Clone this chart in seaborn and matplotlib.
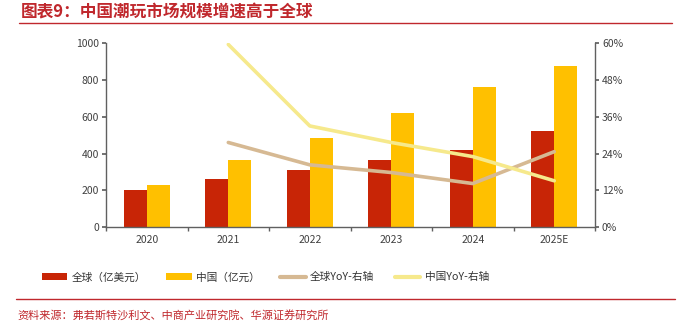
import numpy as np
import pandas as pd
import matplotlib
matplotlib.use("Agg")
import matplotlib.pyplot as plt
import seaborn as sns
from matplotlib.patches import Patch
from matplotlib.lines import Line2D
from matplotlib.ticker import FixedLocator, FuncFormatter

years = ["2020", "2021", "2022", "2023", "2024", "2025E"]
global_size = [203, 259, 311, 367, 418, 521]
china_size = [230, 367, 487, 623, 762, 877]
global_yoy = [np.nan, 27.6, 20.3, 17.8, 14.2, 24.6]
china_yoy = [np.nan, 59.6, 33.0, 27.6, 23.0, 15.1]
series_names = ["全球（亿美元）", "中国（亿元）", "全球YoY-右轴", "中国YoY-右轴"]
title = "图表9：中国潮玩市场规模增速高于全球"
source = "资料来源：弗若斯特沙利文、中商产业研究院、华源证券研究所"

c_red = "#C82506"
c_yel = "#FFC000"
c_tan = "#D6B993"
c_lyel = "#F6E98C"
c_text = "#404040"
c_axis = "#606060"
c_title = "#C0282D"

sns.set_theme(style="white")
plt.rcParams["font.family"] = ["Noto Sans CJK SC", "DejaVu Sans"]
plt.rcParams["axes.unicode_minus"] = False

fig = plt.figure(figsize=(6.8, 3.3), dpi=100)
ax = fig.add_axes([0.156, 0.312, 0.719, 0.557])

df = pd.DataFrame({
    "year": years * 2,
    "value": global_size + china_size,
    "series": [series_names[0]] * len(years) + [series_names[1]] * len(years),
})
sns.barplot(data=df, x="year", y="value", hue="series", order=years,
            palette=[c_red, c_yel], width=0.56, gap=0, saturation=1,
            legend=False, ax=ax, linewidth=0)

ax.set_xlim(-0.5, len(years) - 0.5)
ax.set_ylim(0, 1000)
ax.set_yticks([0, 200, 400, 600, 800, 1000])
ax.set_xlabel("")
ax.set_ylabel("")
ax.tick_params(axis="y", which="major", length=3, color=c_axis, labelsize=7.5,
               labelcolor=c_text, pad=2, left=True)
ax.tick_params(axis="x", which="major", length=0, labelsize=7.5, labelcolor=c_text, pad=6)
ax.xaxis.set_minor_locator(FixedLocator(np.arange(-0.5, len(years), 1.0)))
ax.tick_params(axis="x", which="minor", length=3, color=c_axis, bottom=True, direction="out")
for s in ["top", "right"]:
    ax.spines[s].set_visible(False)
for s in ["left", "bottom"]:
    ax.spines[s].set_color(c_axis)
    ax.spines[s].set_linewidth(1.0)

ax2 = ax.twinx()
xpos = np.arange(len(years))
ldf = pd.DataFrame({"x": list(xpos) * 2, "yoy": global_yoy + china_yoy,
                    "series": [series_names[2]] * len(years) + [series_names[3]] * len(years)}).dropna()
sns.lineplot(data=ldf, x="x", y="yoy", hue="series", palette=[c_tan, c_lyel],
             linewidth=2.6, legend=False, ax=ax2)
ax2.set_ylim(0, 60)
ax2.set_yticks([0, 12, 24, 36, 48, 60])
ax2.yaxis.set_major_formatter(FuncFormatter(lambda v, p: f"{v:.0f}%"))
ax2.set_xlabel("")
ax2.set_ylabel("")
ax2.tick_params(axis="y", length=3, color=c_axis, labelsize=7.5, labelcolor=c_text, pad=2, right=True)
for s in ["top", "left", "bottom"]:
    ax2.spines[s].set_visible(False)
ax2.spines["right"].set_color(c_axis)
ax2.spines["right"].set_linewidth(1.0)
ax2.set_xlim(-0.5, len(years) - 0.5)

handles = [Patch(facecolor=c_red, linewidth=0), Patch(facecolor=c_yel, linewidth=0),
           Line2D([0], [0], color=c_tan, lw=3), Line2D([0], [0], color=c_lyel, lw=3)]
fig.legend(handles, series_names, loc="center", bbox_to_anchor=(0.39, 0.16), ncol=4,
           frameon=False, fontsize=7.7, handlelength=2.4, handleheight=0.6,
           columnspacing=1.9, handletextpad=0.4, labelcolor="#333333")

fig.text(0.03, 0.962, title, color=c_title, fontsize=12, fontweight="bold", va="center")
fig.add_artist(Line2D([0.028, 0.988], [0.931, 0.931], color=c_title, lw=1.0))
fig.add_artist(Line2D([0.024, 0.993], [0.094, 0.094], color=c_title, lw=1.0))
fig.text(0.026, 0.042, source, color=c_title, fontsize=8, va="center")

fig.savefig("out.png", dpi=100, facecolor="white")
